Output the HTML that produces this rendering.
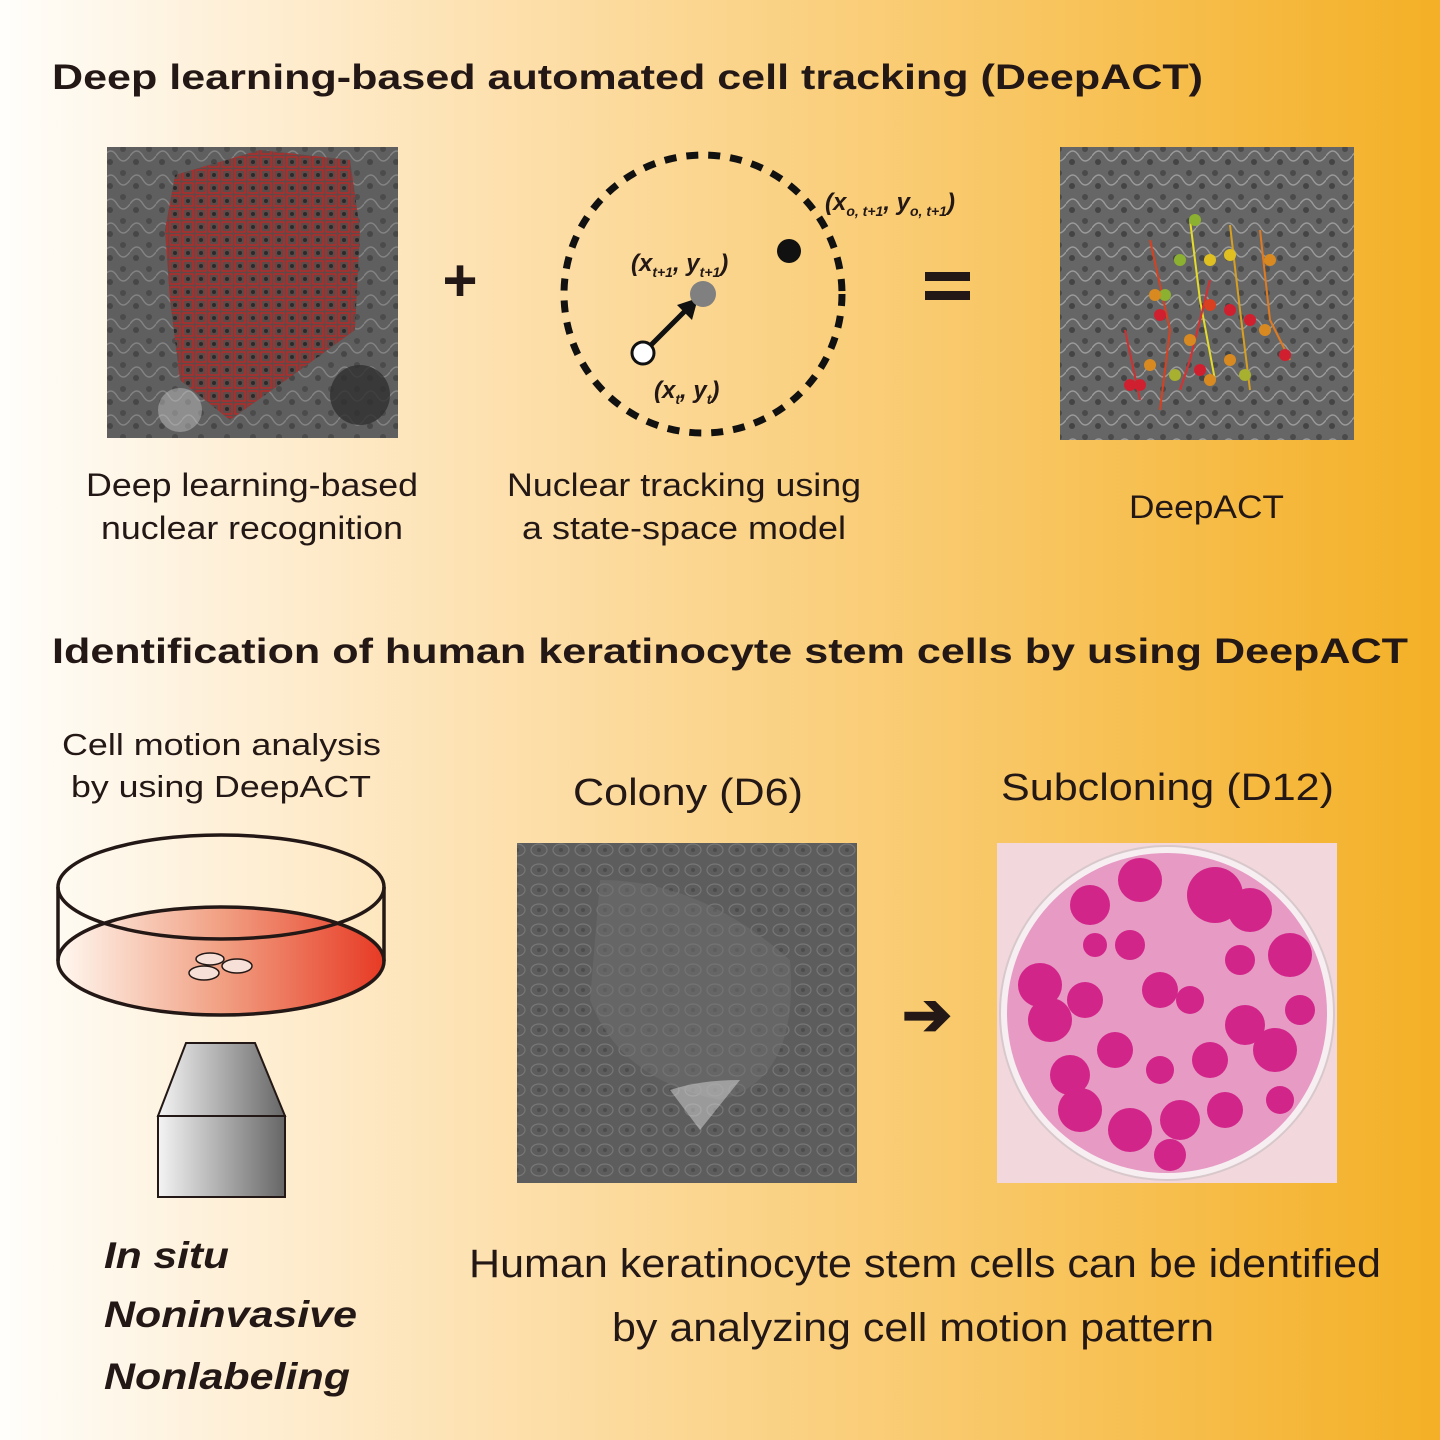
<!DOCTYPE html>
<html><head><meta charset="utf-8"><style>
html,body{margin:0;padding:0;}
svg{display:block;font-family:"Liberation Sans",Arial,sans-serif;}
</style></head><body>
<svg width="1440" height="1440" viewBox="0 0 1440 1440" xmlns="http://www.w3.org/2000/svg">
<defs>
<linearGradient id="bg" x1="0" x2="1" y1="0" y2="0">
<stop offset="0" stop-color="#fffefb"/>
<stop offset="0.12" stop-color="#fef3e0"/>
<stop offset="0.35" stop-color="#fde0ad"/>
<stop offset="0.65" stop-color="#f9ca6e"/>
<stop offset="1" stop-color="#f4b026"/>
</linearGradient>
<linearGradient id="dish" x1="0" x2="1"><stop offset="0" stop-color="#fff8f0"/><stop offset="0.5" stop-color="#f1a083"/><stop offset="1" stop-color="#e73a24"/></linearGradient>
<linearGradient id="obj" x1="0" x2="1"><stop offset="0" stop-color="#f4f4f4"/><stop offset="1" stop-color="#666"/></linearGradient>
<pattern id="redbox" width="13" height="13" patternUnits="userSpaceOnUse">
<rect width="13" height="13" fill="#5e4a48"/>
<rect x="1" y="1" width="10" height="10" fill="none" stroke="#c82424" stroke-width="1.2"/>
<circle cx="6" cy="6" r="2" fill="#2a2a2a"/>
</pattern>
<pattern id="cells" width="22" height="20" patternUnits="userSpaceOnUse">
<rect width="22" height="20" fill="#5f5f5f"/>
<ellipse cx="11" cy="10" rx="8" ry="6" fill="none" stroke="#8a8a8a" stroke-width="1.2"/>
<circle cx="11" cy="10" r="2" fill="#444"/>
</pattern>
<pattern id="cells2" width="26" height="24" patternUnits="userSpaceOnUse">
<rect width="26" height="24" fill="#666"/>
<path d="M0 12 Q7 2 13 12 T26 12" fill="none" stroke="#9a9a9a" stroke-width="1.4"/>
<circle cx="6" cy="18" r="3" fill="#444"/>
<circle cx="19" cy="5" r="3" fill="#4a4a4a"/>
</pattern>
</defs>
<rect width="1440" height="1440" fill="url(#bg)"/>

<text x="52" y="89" font-size="35" font-weight="bold" fill="#231815" textLength="1151" lengthAdjust="spacingAndGlyphs">Deep learning-based automated cell tracking (DeepACT)</text>
<text x="52" y="663" font-size="35" font-weight="bold" fill="#231815" textLength="1356" lengthAdjust="spacingAndGlyphs">Identification of human keratinocyte stem cells by using DeepACT</text>

<!-- image 1 -->
<rect x="107" y="147" width="291" height="291" fill="#4e4e4e"/>
<rect x="107" y="147" width="291" height="291" fill="url(#cells2)" opacity="0.7"/>
<path d="M175 175 L260 150 L350 160 L360 230 L355 330 L300 370 L230 420 L180 380 L170 300 L165 230 Z" fill="url(#redbox)"/>
<circle cx="180" cy="410" r="22" fill="#bdbdbd" opacity="0.5"/>
<ellipse cx="360" cy="395" rx="30" ry="30" fill="#2f2f2f" opacity="0.8"/>

<text x="460" y="301" font-size="60" font-weight="bold" text-anchor="middle" fill="#231815">+</text>

<!-- tracking diagram -->
<circle cx="703" cy="294" r="139" fill="none" stroke="#111" stroke-width="7" stroke-dasharray="12 10"/>
<circle cx="789" cy="251" r="12" fill="#111"/>
<line x1="651" y1="345" x2="690" y2="306" stroke="#111" stroke-width="5"/>
<polygon points="698,298 677,305 692,320" fill="#111"/>
<circle cx="703" cy="294" r="13" fill="#808080"/>
<circle cx="643" cy="353" r="11" fill="#fff" stroke="#111" stroke-width="3"/>
<g font-style="italic" font-weight="bold" fill="#231815">
<text x="631" y="271" font-size="24">(x<tspan font-size="14" dy="6">t+1</tspan><tspan dy="-6">, y</tspan><tspan font-size="14" dy="6">t+1</tspan><tspan dy="-6">)</tspan></text>
<text x="825" y="210" font-size="24">(x<tspan font-size="14" dy="6">o, t+1</tspan><tspan dy="-6">, y</tspan><tspan font-size="14" dy="6">o, t+1</tspan><tspan dy="-6">)</tspan></text>
<text x="654" y="398" font-size="24">(x<tspan font-size="14" dy="6">t</tspan><tspan dy="-6">, y</tspan><tspan font-size="14" dy="6">t</tspan><tspan dy="-6">)</tspan></text>
</g>

<rect x="925" y="272" width="45" height="9" fill="#231815"/>
<rect x="925" y="291" width="45" height="9" fill="#231815"/>

<!-- image 3 -->
<rect x="1060" y="147" width="294" height="293" fill="url(#cells2)"/>
<g fill="none" stroke-width="2">
<path d="M1190 220 L1200 300 L1215 380" stroke="#e5dc2a"/>
<path d="M1230 225 L1240 310 L1250 390" stroke="#d8a020"/>
<path d="M1150 240 L1170 330 L1160 410" stroke="#d84020"/>
<path d="M1260 230 L1270 320 L1290 360" stroke="#e07a20"/>
<path d="M1125 330 L1140 400" stroke="#d03030"/>
<path d="M1210 280 L1190 360 L1180 390" stroke="#d83030"/>
</g>
<g>
<circle cx="1195" cy="220" r="6" fill="#8cb030"/><circle cx="1180" cy="260" r="6" fill="#8cb030"/>
<circle cx="1165" cy="295" r="6" fill="#8cb030"/><circle cx="1210" cy="260" r="6" fill="#e0c020"/>
<circle cx="1230" cy="255" r="6" fill="#e0c020"/><circle cx="1270" cy="260" r="6" fill="#d88a20"/>
<circle cx="1155" cy="295" r="6" fill="#d88a20"/><circle cx="1210" cy="305" r="6" fill="#d84020"/>
<circle cx="1230" cy="310" r="6" fill="#d02030"/><circle cx="1250" cy="320" r="6" fill="#d02030"/>
<circle cx="1265" cy="330" r="6" fill="#d88a20"/><circle cx="1285" cy="355" r="6" fill="#d02030"/>
<circle cx="1190" cy="340" r="6" fill="#d88a20"/><circle cx="1175" cy="375" r="6" fill="#a8b030"/>
<circle cx="1200" cy="370" r="6" fill="#d02030"/><circle cx="1150" cy="365" r="6" fill="#d88a20"/>
<circle cx="1140" cy="385" r="6" fill="#d02030"/><circle cx="1230" cy="360" r="6" fill="#d88a20"/>
<circle cx="1245" cy="375" r="6" fill="#a8b030"/><circle cx="1160" cy="315" r="6" fill="#d02030"/>
<circle cx="1130" cy="385" r="6" fill="#d02030"/><circle cx="1210" cy="380" r="6" fill="#d88a20"/>
</g>

<g fill="#231815" lengthAdjust="spacingAndGlyphs">
<text x="86" y="496" font-size="32" textLength="332" lengthAdjust="spacingAndGlyphs">Deep learning-based</text>
<text x="101" y="539" font-size="32" textLength="302" lengthAdjust="spacingAndGlyphs">nuclear recognition</text>
<text x="507" y="496" font-size="32" textLength="354" lengthAdjust="spacingAndGlyphs">Nuclear tracking using</text>
<text x="522" y="539" font-size="32" textLength="324" lengthAdjust="spacingAndGlyphs">a state-space model</text>
<text x="1129" y="518" font-size="32" textLength="155" lengthAdjust="spacingAndGlyphs">DeepACT</text>
<text x="62" y="755" font-size="31" textLength="319" lengthAdjust="spacingAndGlyphs">Cell motion analysis</text>
<text x="71" y="797" font-size="31" textLength="300" lengthAdjust="spacingAndGlyphs">by using DeepACT</text>
<text x="573" y="805" font-size="38" textLength="230" lengthAdjust="spacingAndGlyphs">Colony (D6)</text>
<text x="1001" y="800" font-size="38" textLength="333" lengthAdjust="spacingAndGlyphs">Subcloning (D12)</text>
<text x="469" y="1277" font-size="40" textLength="912" lengthAdjust="spacingAndGlyphs">Human keratinocyte stem cells can be identified</text>
<text x="612" y="1341" font-size="40" textLength="602" lengthAdjust="spacingAndGlyphs">by analyzing cell motion pattern</text>
</g>
<g font-size="37" font-style="italic" font-weight="bold" fill="#231815">
<text x="104" y="1268" textLength="125" lengthAdjust="spacingAndGlyphs">In situ</text>
<text x="104" y="1327" textLength="253" lengthAdjust="spacingAndGlyphs">Noninvasive</text>
<text x="104" y="1389" textLength="246" lengthAdjust="spacingAndGlyphs">Nonlabeling</text>
</g>

<!-- dish -->
<ellipse cx="221" cy="961" rx="163" ry="54" fill="url(#dish)" stroke="#231815" stroke-width="3.5"/>
<path d="M58 887 L58 961 M384 887 L384 961" stroke="#231815" stroke-width="3.5"/>
<ellipse cx="221" cy="887" rx="163" ry="52" fill="none" stroke="#231815" stroke-width="3.5"/>
<g fill="#f7e0d8" stroke="#231815" stroke-width="1.5">
<ellipse cx="210" cy="959" rx="14" ry="6"/><ellipse cx="237" cy="966" rx="15" ry="7"/><ellipse cx="204" cy="973" rx="15" ry="7"/>
</g>
<!-- objective -->
<polygon points="186,1043 255,1043 285,1116 158,1116" fill="url(#obj)" stroke="#231815" stroke-width="2"/>
<rect x="158" y="1116" width="127" height="81" fill="url(#obj)" stroke="#231815" stroke-width="2"/>

<!-- colony -->
<rect x="517" y="843" width="340" height="340" fill="url(#cells)"/>
<rect x="517" y="843" width="340" height="340" fill="#5a5a5a" opacity="0.4"/>
<path d="M600 880 Q700 880 790 960 Q800 1080 720 1100 Q620 1080 590 1000 Z" fill="#707070" opacity="0.5"/>
<path d="M670 1090 Q700 1080 740 1080 L700 1130 Z" fill="#d8d8d8" opacity="0.5"/>

<text x="927" y="1035" font-size="60" font-weight="bold" text-anchor="middle" fill="#231815">➔</text>

<!-- subcloning -->
<rect x="997" y="843" width="340" height="340" fill="#f2d8dc"/>
<circle cx="1167" cy="1013" r="167" fill="#f6eef0" stroke="#d8c8cc" stroke-width="2"/>
<circle cx="1167" cy="1013" r="160" fill="#e69ac4"/>
<g fill="#d2258a">
<circle cx="1140" cy="880" r="22"/><circle cx="1090" cy="905" r="20"/><circle cx="1215" cy="895" r="28"/><circle cx="1250" cy="910" r="22"/>
<circle cx="1040" cy="985" r="22"/><circle cx="1050" cy="1020" r="22"/><circle cx="1085" cy="1000" r="18"/><circle cx="1130" cy="945" r="15"/>
<circle cx="1160" cy="990" r="18"/><circle cx="1190" cy="1000" r="14"/><circle cx="1240" cy="960" r="15"/><circle cx="1290" cy="955" r="22"/>
<circle cx="1300" cy="1010" r="15"/><circle cx="1245" cy="1025" r="20"/><circle cx="1275" cy="1050" r="22"/><circle cx="1210" cy="1060" r="18"/>
<circle cx="1115" cy="1050" r="18"/><circle cx="1070" cy="1075" r="20"/><circle cx="1080" cy="1110" r="22"/><circle cx="1130" cy="1130" r="22"/>
<circle cx="1180" cy="1120" r="20"/><circle cx="1225" cy="1110" r="18"/><circle cx="1170" cy="1155" r="16"/><circle cx="1160" cy="1070" r="14"/>
<circle cx="1095" cy="945" r="12"/><circle cx="1280" cy="1100" r="14"/>
</g>

</svg>
</body></html>
